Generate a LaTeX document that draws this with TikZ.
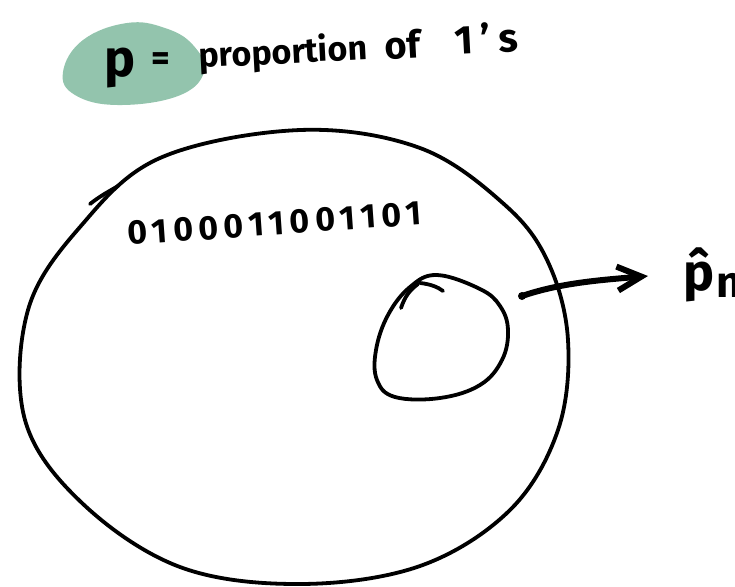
\documentclass[tikz,border=0pt]{standalone}
\usepackage{fontspec}
\setmainfont{Fira Sans}
\usetikzlibrary{arrows.meta}
\definecolor{blobgreen}{HTML}{93C4AD}
\tikzset{
  ink/.style={draw=black, line width=1.9pt, line cap=round, line join=round},
  thickink/.style={draw=black, line width=3pt, line cap=round, line join=round},
  handtext/.style={text=black, inner sep=0pt}
}
\begin{document}
\begin{tikzpicture}[x=0.5pt,y=-0.5pt]
\useasboundingbox (0,0) rectangle (735,586);
\clip (0,0) rectangle (735,586);
% green highlight blob
\fill[blobgreen] plot[smooth cycle, tension=0.7] coordinates {(83,40) (127,23) (165,28) (193,45) (204,72) (178,96) (118,105) (75,95) (63,72)};
% heading text
\node[handtext, font=\bfseries\fontsize{26}{26}\selectfont, anchor=base] (p) at (120,76) {p};
\node[handtext, font=\bfseries\fontsize{18}{18}\selectfont, anchor=center] (eq) at (161,62) {=};
\node[handtext, font=\bfseries\fontsize{17}{17}\selectfont, anchor=base west, rotate=3] (prop) at (199,68) {proportion};
\node[handtext, font=\bfseries\fontsize{19}{19}\selectfont, anchor=base west, rotate=3] (of) at (385,60) {of};
\node[handtext, font=\bfseries\fontsize{20}{20}\selectfont\addfontfeatures{LetterSpace=20}, anchor=base west, rotate=3] (ones) at (455,55) {1's};
% big population ellipse
\draw[ink] plot[smooth cycle, tension=0.6] coordinates {(300,130) (420,148) (505,205) (548,262) (568,340) (558,430) (510,510) (420,566) (300,584) (180,567) (82,503) (25,420) (28,310) (80,227) (160,158)};
\draw[ink] (90,204) .. controls (100,196) and (108,192) .. (118,186);
% binary string
\node[handtext, font=\bfseries\fontsize{17}{17}\selectfont\addfontfeatures{LetterSpace=16}, anchor=base west, rotate=4] (bits) at (128,245) {0100011001101};
% sample circle
\draw[ink] plot[smooth cycle, tension=0.65] coordinates {(437,275) (480,289) (500,306) (508,330) (502,360) (480,385) (440,398) (395,397) (377,380) (376,350) (388,315) (410,287)};
\draw[ink] (401,308) .. controls (405,296) and (410,290) .. (418,284);
\draw[ink] (420,283) .. controls (430,284) and (438,287) .. (443,291);
\coordinate (start) at (522,296);
\fill (start) circle (4);
\node[handtext, font=\bfseries\fontsize{26}{26}\selectfont, anchor=base west] (phat) at (683,290) {\^{p}};
\node[handtext, font=\bfseries\fontsize{22}{22}\selectfont, anchor=base west] (sub) at (716,297) {n};
\draw[thickink, -{Straight Barb[length=12pt,width=12pt,line width=3pt]}] (start) .. controls (560,283) and (600,280) .. (648,276);
\end{tikzpicture}
\end{document}
